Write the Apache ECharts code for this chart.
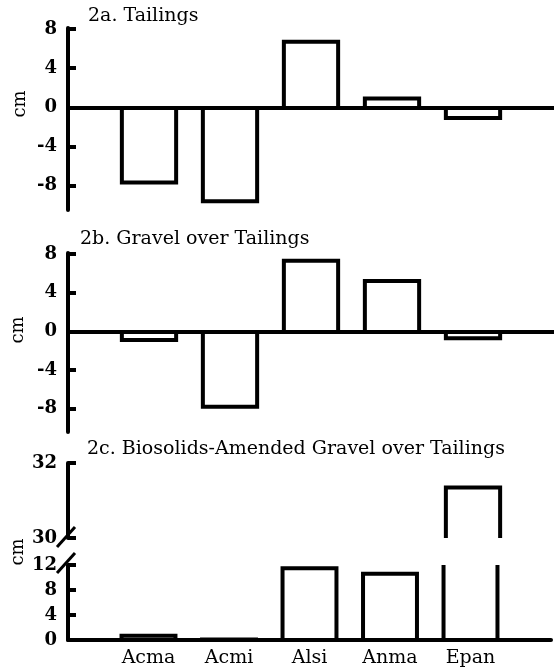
<!DOCTYPE html>
<html><head><meta charset="utf-8">
<script src="https://cdn.jsdelivr.net/npm/echarts@6/dist/echarts.min.js"></script>
<style>html,body{margin:0;padding:0;background:#fff}#c{width:554px;height:672px}</style>
</head><body><div id="c"></div>
<script>
const categories = ['Acma', 'Acmi', 'Alsi', 'Anma', 'Epan'];
const tailings = [-7.7, -9.6, 6.7, 0.9, -1.1];
const gravel = [-0.9, -7.8, 7.3, 5.2, -0.7];
const biosolids = [0.7, 0.1, 11.5, 10.6, 31.35];
const ticksAB = [-8, -4, 0, 4, 8];
const ticksCLow = [0, 4, 8, 12];
const ticksCHigh = [30, 32];
const titles = ['2a. Tailings', '2b. Gravel over Tailings', '2c. Biosolids-Amended Gravel over Tailings'];
const unitName = 'cm';

const FONT = 'DejaVu Serif';
const paddedCats = [''].concat(categories, ['']);
const toData = vals => vals.map((v, i) => [i + 1, v]);

function barRenderer(yMin, yMax) {
  return function (params, api) {
    const ci = api.value(0), v = api.value(1);
    if (v < yMin) return null;
    const base = Math.max(0, yMin);
    const hw = api.size([1, 0])[0] * 0.335;
    const p0 = api.coord([ci, base]);
    const style = { stroke: '#000', lineWidth: 4, fill: null, lineJoin: 'miter' };
    if (v > yMax) {
      const p1 = api.coord([ci, yMax]);
      return { type: 'group', children: [
        { type: 'line', shape: { x1: p0[0] - hw, y1: p0[1], x2: p0[0] - hw, y2: p1[1] }, style: style },
        { type: 'line', shape: { x1: p0[0] + hw, y1: p0[1], x2: p0[0] + hw, y2: p1[1] }, style: style }
      ]};
    }
    const p1 = api.coord([ci, v]);
    return { type: 'polyline', shape: { points: [
      [p0[0] - hw, p0[1]], [p0[0] - hw, p1[1]], [p0[0] + hw, p1[1]], [p0[0] + hw, p0[1]]
    ] }, style: style };
  };
}

const grids = [
  { left: 68, right: 0, top: 28, bottom: 462 },
  { left: 68, right: 0, top: 253, bottom: 240 },
  { left: 68, right: 0, top: 463, bottom: 134 },
  { left: 68, right: 0, top: 565, bottom: 32 }
];
const yRanges = [[-10.5, 8.1], [-10.4, 8.1], [30, 32], [0, 12]];
const yTicks = [ticksAB, ticksAB, ticksCHigh, ticksCLow];
const yData = [tailings, gravel, biosolids, biosolids];

const xAxes = grids.map((g, i) => ({
  type: 'category', gridIndex: i, boundaryGap: false, data: paddedCats,
  axisLine: { show: i !== 2, onZero: true, lineStyle: { color: '#000', width: 4 } },
  axisTick: { show: false },
  axisLabel: { show: i === 3, interval: 0, fontFamily: FONT, fontSize: 19, color: '#000', margin: 9 },
  splitLine: { show: false }
}));
const yAxes = grids.map((g, i) => ({
  type: 'value', gridIndex: i, min: yRanges[i][0], max: yRanges[i][1],
  axisLine: { show: true, lineStyle: { color: '#000', width: 4 } },
  axisTick: { show: true, inside: true, length: 8, customValues: yTicks[i], lineStyle: { color: '#000', width: 4 } },
  axisLabel: { customValues: yTicks[i], fontFamily: FONT, fontWeight: 'bold', fontSize: 18, color: '#000', margin: 11 },
  splitLine: { show: false }
}));
const series = grids.map((g, i) => ({
  type: 'custom', xAxisIndex: i, yAxisIndex: i,
  renderItem: barRenderer(yRanges[i][0], yRanges[i][1]),
  data: toData(yData[i]), silent: true, animation: false
}));

const titleTop = [7, 230, 440];
const titleLeft = [88, 80, 87];
const title = titles.map((t, i) => ({
  text: t, left: titleLeft[i], top: titleTop[i], padding: 0,
  textStyle: { fontFamily: FONT, fontSize: 19, fontWeight: 'normal', color: '#000' }
}));

const unitPos = [[20, 104], [18, 330], [18, 552]];
const graphic = unitPos.map(p => ({
  type: 'text', x: p[0], y: p[1], rotation: Math.PI / 2,
  style: { text: unitName, font: '18px "' + FONT + '"', fill: '#000', align: 'center', verticalAlign: 'middle' }
})).concat([
  { type: 'line', shape: { x1: 57, y1: 547, x2: 75, y2: 527 }, style: { stroke: '#000', lineWidth: 3 } },
  { type: 'line', shape: { x1: 57, y1: 573, x2: 75, y2: 553 }, style: { stroke: '#000', lineWidth: 3 } }
]);

const chart = echarts.init(document.getElementById('c'), null, { renderer: 'canvas' });
chart.setOption({
  animation: false,
  backgroundColor: '#fff',
  title: title,
  grid: grids,
  xAxis: xAxes,
  yAxis: yAxes,
  series: series,
  graphic: graphic
});
</script></body></html>
